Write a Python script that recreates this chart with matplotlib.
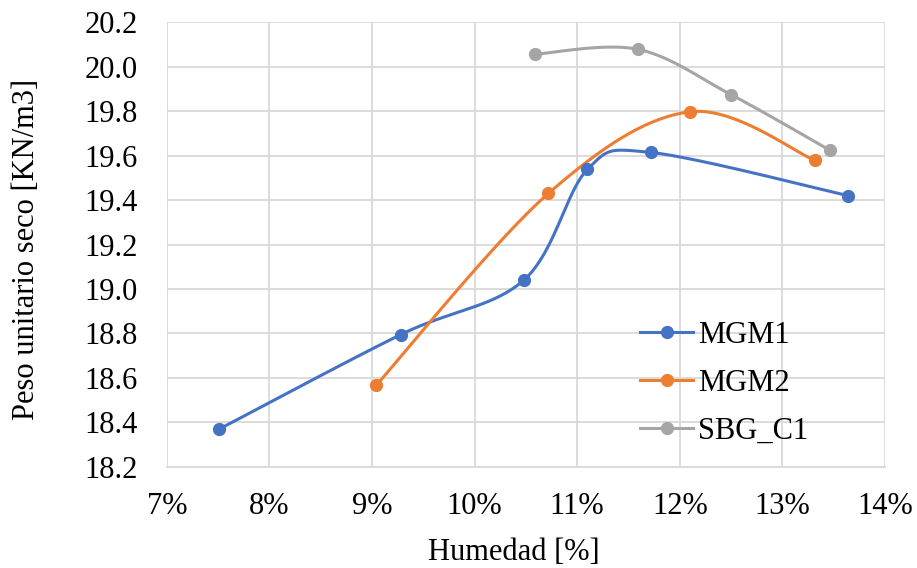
import numpy as np
import matplotlib
matplotlib.use("Agg")
import matplotlib.pyplot as plt
from matplotlib.ticker import FuncFormatter, MultipleLocator

plt.rcParams['font.family'] = ['Liberation Serif', 'DejaVu Serif']

mgm1_x = [7.51, 9.28, 10.48, 11.10, 11.72, 13.64]
mgm1_y = [18.37, 18.795, 19.04, 19.538, 19.614, 19.42]
mgm2_x = [9.04, 10.72, 12.10, 13.32]
mgm2_y = [18.567, 19.43, 19.797, 19.578]
sbg_x = [10.59, 11.59, 12.50, 13.46]
sbg_y = [20.056, 20.078, 19.874, 19.625]

series = [("MGM1", mgm1_x, mgm1_y, "#4472C4"),
          ("MGM2", mgm2_x, mgm2_y, "#ED7D31"),
          ("SBG_C1", sbg_x, sbg_y, "#A5A5A5")]


def smooth(xs, ys, n=40):
    p = np.column_stack([xs, ys]).astype(float)
    sc = np.array([102.6, 222.0])
    p = p * sc
    out = []
    m = len(p)
    for i in range(m - 1):
        p0 = p[i - 1] if i > 0 else p[i]
        p1 = p[i]
        p2 = p[i + 1]
        p3 = p[i + 2] if i + 2 < m else p[i + 1]
        c1 = p1 + (p2 - p0) / 6.0
        c2 = p2 - (p3 - p1) / 6.0
        t = np.linspace(0, 1, n)[:, None]
        seg = ((1 - t) ** 3) * p1 + 3 * ((1 - t) ** 2) * t * c1 + 3 * (1 - t) * t ** 2 * c2 + t ** 3 * p2
        out.append(seg if i == 0 else seg[1:])
    r = np.vstack(out) / sc
    return r[:, 0], r[:, 1]


fig = plt.figure(figsize=(9.17, 5.68), dpi=100)
ax = fig.add_axes([0.182, 0.178, 0.783, 0.783])

for name, xs, ys, c in series:
    sx, sy = smooth(xs, ys)
    ax.plot(sx, sy, color=c, lw=2.2, zorder=3)
    ax.plot(xs, ys, 'o', color=c, ms=8.5, zorder=4)
    ax.plot([], [], '-o', color=c, lw=2.2, ms=8.5, label=name)

ax.set_xlim(7, 14)
ax.set_ylim(18.2, 20.2)
ax.xaxis.set_major_locator(MultipleLocator(1))
ax.yaxis.set_major_locator(MultipleLocator(0.2))
ax.xaxis.set_major_formatter(FuncFormatter(lambda v, p: f"{v:.0f}%"))
ax.yaxis.set_major_formatter(FuncFormatter(lambda v, p: f"{v:.1f}"))
ax.grid(True, color="#D9D9D9", lw=1.3)
ax.set_axisbelow(True)
for s in ax.spines.values():
    s.set_visible(False)
ax.spines['bottom'].set_visible(True)
ax.spines['bottom'].set_color("#D9D9D9")
ax.spines['bottom'].set_linewidth(1.3)
ax.tick_params(length=0, labelsize=22, colors="black")
ax.tick_params(axis='y', pad=21)
ax.tick_params(axis='x', pad=18)

fig.text(0.560, 0.028, "Humedad [%]", fontsize=22, ha='center', va='center')
fig.text(0.029, 0.56, "Peso unitario seco [KN/m3]", fontsize=22, ha='center',
         va='center', rotation=90)

leg = ax.legend(loc="upper left", bbox_to_anchor=(0.659, 0.329), frameon=False,
                fontsize=22, handlelength=1.74, labelspacing=0.62,
                handletextpad=0.16, borderpad=0, borderaxespad=0)

fig.savefig("out.png", dpi=100)
